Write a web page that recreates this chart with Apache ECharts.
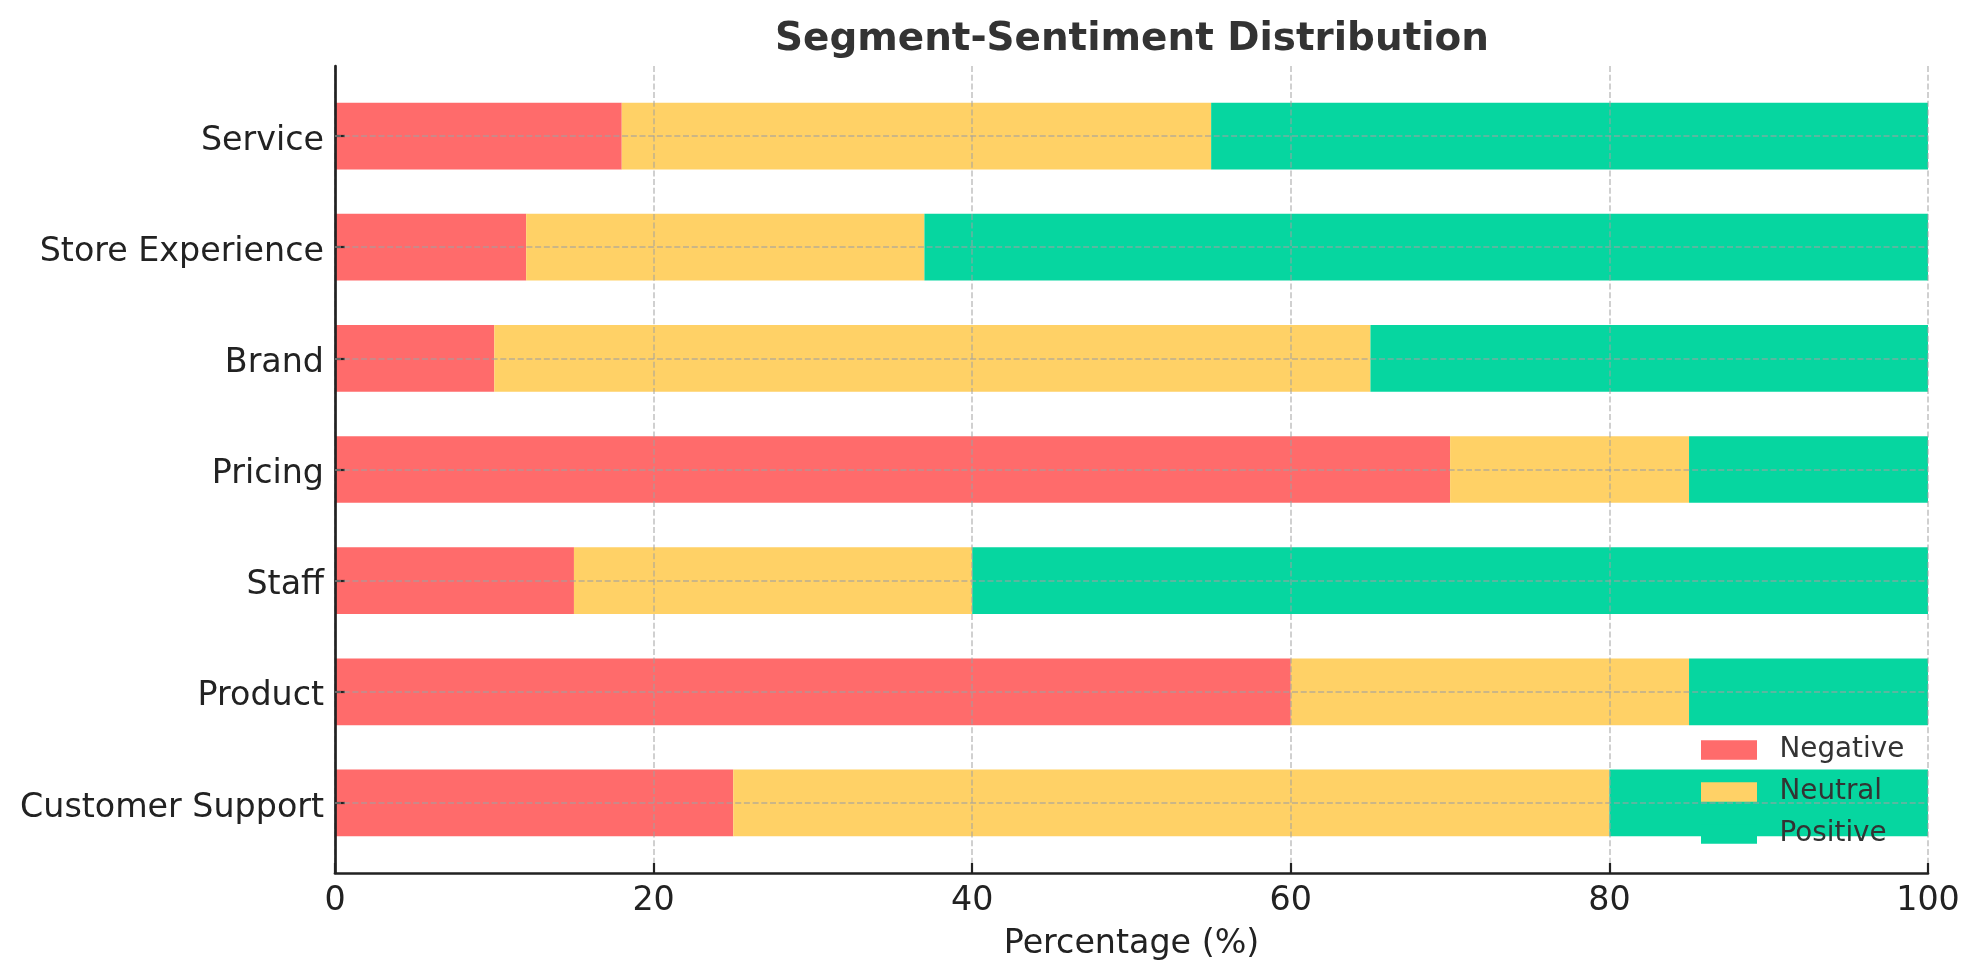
<!DOCTYPE html>
<html>
<head>
<meta charset="utf-8">
<script src="https://cdn.jsdelivr.net/npm/echarts@6/dist/echarts.min.js"></script>
<style>
html,body{margin:0;padding:0;background:#fff;}
#chart{width:1979px;height:980px;}
</style>
</head>
<body>
<div id="chart"></div>
<script>
// Data (bottom to top order as in ECharts category axis)
const categories = ['Customer Support', 'Product', 'Staff', 'Pricing', 'Brand', 'Store Experience', 'Service'];
const negative = [25, 60, 15, 70, 10, 12, 18];
const neutral  = [55, 25, 25, 15, 55, 25, 37];
const positive = [20, 15, 60, 15, 35, 63, 45];
const seriesNames = ['Negative', 'Neutral', 'Positive'];
const seriesColors = ['#FF6B6B', '#FFD166', '#06D6A0'];
const xTicks = { min: 0, max: 100, interval: 20 };

const FONT = 'DejaVu Sans';
const gridLine = { show: true, lineStyle: { color: 'rgba(160,160,160,0.55)', width: 1.8, type: [6, 2.7] } };

const chart = echarts.init(document.getElementById('chart'), null, { renderer: 'canvas' });

const seriesData = [negative, neutral, positive];
const series = seriesNames.map((name, i) => ({
  name: name,
  type: 'bar',
  stack: 'total',
  xAxisIndex: 1,
  yAxisIndex: 1,
  barWidth: '60%',
  itemStyle: { color: seriesColors[i] },
  emphasis: { disabled: true },
  data: seriesData[i],
  z: 2
}));
// horizontal dashed grid lines at category centres, drawn above bars
series.push({
  type: 'line',
  xAxisIndex: 1,
  yAxisIndex: 1,
  data: [],
  silent: true,
  z: 5,
  markLine: {
    silent: true,
    symbol: 'none',
    label: { show: false },
    lineStyle: gridLine.lineStyle,
    data: categories.map(c => ({ yAxis: c }))
  }
});

chart.setOption({
  animation: false,
  backgroundColor: '#ffffff',
  textStyle: { fontFamily: FONT },
  title: {
    text: 'Segment-Sentiment Distribution',
    left: 775,
    top: 20,
    padding: 0,
    textStyle: { fontFamily: FONT, fontSize: 38.9, fontWeight: 'bold', color: '#333333' }
  },
  legend: {
    orient: 'vertical',
    left: 1701,
    top: 736,
    padding: 0,
    itemWidth: 56,
    itemHeight: 19.5,
    itemGap: 14,
    icon: 'rect',
    align: 'left',
    data: seriesNames,
    textStyle: { fontFamily: FONT, fontSize: 27.8, color: '#333333', padding: [0, 0, 0, 17.5] },
    z: 10
  },
  grid: [
    { left: 335, top: 66, width: 1593, height: 807, containLabel: false },
    { left: 335, top: 80.5, width: 1593, height: 778, containLabel: false }
  ],
  xAxis: [
    {
      gridIndex: 0,
      type: 'value',
      min: xTicks.min, max: xTicks.max, interval: xTicks.interval,
      z: 4,
      name: 'Percentage (%)',
      nameLocation: 'middle',
      nameGap: 55,
      nameTextStyle: { fontFamily: FONT, fontSize: 33.3, color: '#222222' },
      axisLine: { show: true, lineStyle: { color: '#222222', width: 2.7 } },
      axisTick: { show: true, inside: true, length: 10, lineStyle: { color: '#222222', width: 2.2 } },
      axisLabel: { fontFamily: FONT, fontSize: 33.3, color: '#222222', margin: 12 },
      splitLine: gridLine
    },
    {
      gridIndex: 1,
      type: 'value',
      min: xTicks.min, max: xTicks.max, interval: xTicks.interval,
      show: false
    }
  ],
  yAxis: [
    {
      gridIndex: 0,
      type: 'value',
      min: 0, max: 1,
      z: 4,
      axisLine: { show: true, lineStyle: { color: '#222222', width: 2.7 } },
      axisTick: { show: false },
      axisLabel: { show: false },
      splitLine: { show: false }
    },
    {
      gridIndex: 1,
      type: 'category',
      data: categories,
      z: 4,
      axisLine: { show: false },
      axisTick: { show: true, inside: true, alignWithLabel: true, length: 10, lineStyle: { color: '#222222', width: 2.2 } },
      axisLabel: { fontFamily: FONT, fontSize: 33.3, color: '#222222', margin: 11, verticalAlign: 'top', lineHeight: 10 },
      splitLine: { show: false }
    }
  ],
  series: series
});
</script>
</body>
</html>
